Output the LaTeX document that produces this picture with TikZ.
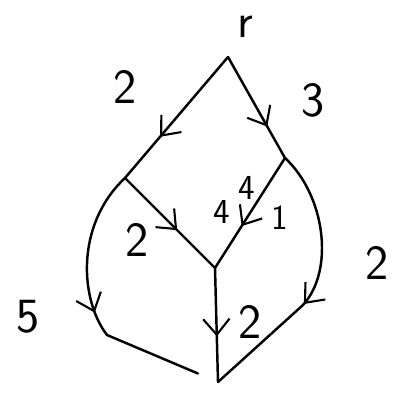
\documentclass[tikz,border=0pt]{standalone}
\usetikzlibrary{arrows.meta,decorations.markings}
\begin{document}
\begin{tikzpicture}[x=0.02cm,y=-0.02cm,
  edge/.style={line width=1.4pt,line cap=round,line join=round},
  midarrow/.style={postaction={decorate,decoration={markings,
     mark=at position #1 with {\arrow{Straight Barb[length=9pt,width=15pt,line width=1.2pt]}}}}},
  lbl/.style={font=\sffamily\fontsize{28}{28}\selectfont,inner sep=0pt},
  slbl/.style={font=\sffamily\fontsize{20}{20}\selectfont,inner sep=0pt}]
\useasboundingbox (0,0) rectangle (406,394);
\coordinate (r) at (228,57);
\coordinate (a) at (125,178);
\coordinate (b) at (285,158);
\coordinate (c) at (215,268);
\coordinate (d) at (218,382);
\coordinate (lj) at (107,335);
\coordinate (rj) at (303,305);
% edges
\draw[edge,midarrow=0.66] (r) -- (a);
\draw[edge,midarrow=0.69] (r) -- (b);
\draw[edge,midarrow=0.62] (b) -- (c);
\draw[edge,midarrow=0.58] (a) -- (c);
\draw[edge,midarrow=0.6] (c) -- (d);
\draw[edge,midarrow=0.5,shorten >=22*0.567pt] (a) .. controls (75,225) and (80,300) .. (lj) -- (d);
\draw[edge,midarrow=0.58] (b) .. controls (325,195) and (335,270) .. (rj) -- (d);
% labels
\node[lbl] (lr) at (245,27) {r};
\node[lbl] (l1) at (125,87) {2};
\node[lbl] (l2) at (313,100) {3};
\node[slbl] (l3) at (247,188) {4};
\node[slbl] (l4) at (222,212) {4};
\node[slbl] (l5) at (280,218) {1};
\node[lbl] (l6) at (137,240) {2};
\node[lbl] (l7) at (28,317) {5};
\node[lbl] (l8) at (250,322) {2};
\node[lbl] (l9) at (377,263) {2};
\end{tikzpicture}
\end{document}
